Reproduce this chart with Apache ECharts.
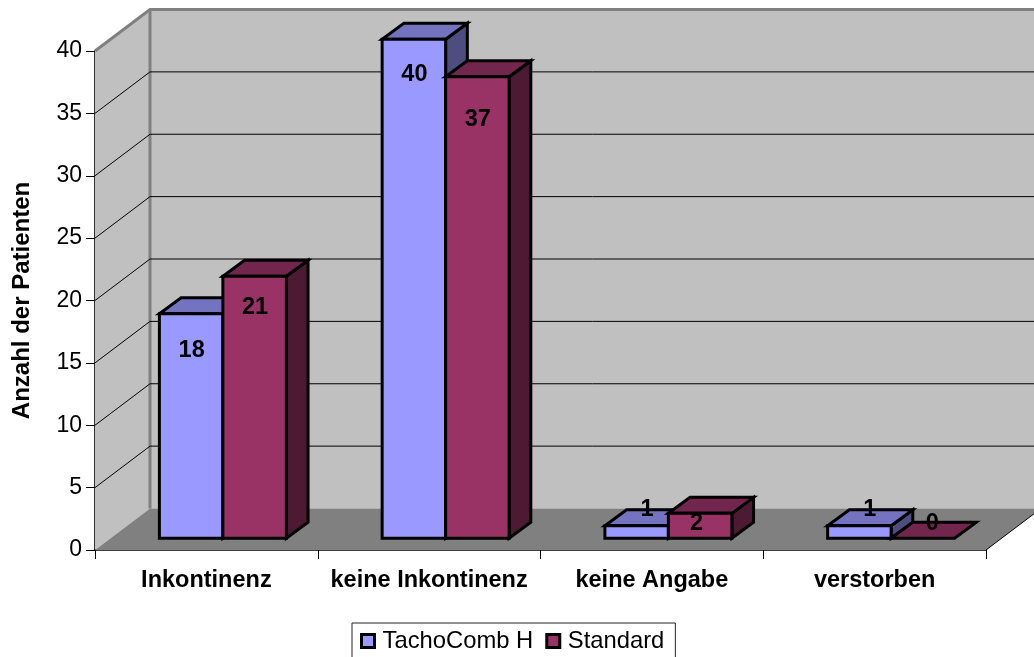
<!DOCTYPE html>
<html><head><meta charset="utf-8">
<style>html,body{margin:0;padding:0;background:#fff;overflow:hidden}#c{width:1034px;height:657px}</style>
<script src="https://cdn.jsdelivr.net/npm/echarts@6/dist/echarts.min.js"></script>
</head><body><div id="c"></div>
<script>
var categories = ['Inkontinenz', 'keine Inkontinenz', 'keine Angabe', 'verstorben'];
var tachoValues = [18, 40, 1, 1];
var standardValues = [21, 37, 2, 0];
var gridValues = [5, 10, 15, 20, 25, 30, 35];
var axisName = 'Anzahl der Patienten';

// Styling / projection constants (not data)
var FONT = '"Liberation Sans", Arial, sans-serif';
var FS = 23;
var DEPTH = [55, -41.5];      // full floor depth
var BAR_FRONT = [16.5, -11.7];// bar front face offset from axis plane
var BAR_DEPTH = [21.7, -16];  // bar depth
var BAR_RATIO = 0.285;
var tachoStyle = {front: '#9999FF', top: '#7373BF', side: '#4D4D80'};
var standardStyle = {front: '#993366', top: '#73264D', side: '#4D1A33'};
// Hand placement of the value labels, relative to the centre of each bar's top front edge
var tachoLabelNudge = [[0.5, 36.5], [0.5, 35.5], [10.5, -16.5], [10.5, -16.5]];
var standardLabelNudge = [[0.5, 31.5], [0.5, 42.5], [-3.5, 10.5], [9.5, -14.5]];

function shift(p, d) { return [p[0] + d[0], p[1] + d[1]]; }

function renderBackdrop(params, api) {
  var band = api.size([1, 0])[0];
  var a = api.coord([0, 0]), b = api.coord([categories.length - 1, 0]), t = api.coord([0, 40]);
  var x0 = a[0] - band / 2, x1 = b[0] + band / 2, y0 = a[1], y1 = t[1];
  var fl = [x0, y0], fr = [x1, y0], tl = [x0, y1];
  var bl = shift(fl, DEPTH), br = shift(fr, DEPTH), btl = shift(tl, DEPTH), btr = shift([x1, y1], DEPTH);
  var edge = {stroke: '#808080', lineWidth: 3, fill: null};
  return {type: 'group', children: [
    {type: 'polygon', shape: {points: [bl, btl, btr, br]}, style: {fill: '#C0C0C0'}},
    {type: 'polygon', shape: {points: [fl, tl, btl, bl]}, style: {fill: '#C0C0C0'}},
    {type: 'polygon', shape: {points: [fl, bl, br, fr]}, style: {fill: '#808080'}},
    {type: 'polyline', shape: {points: [tl, btl, btr]}, style: edge},
    {type: 'polyline', shape: {points: [bl, btl]}, style: edge},
    {type: 'line', shape: {x1: fr[0], y1: fr[1], x2: br[0], y2: br[1]}, style: {stroke: '#000', lineWidth: 1}}
  ]};
}

function renderGrid(params, api) {
  var band = api.size([1, 0])[0];
  var v = api.value(0);
  var l = api.coord([0, v]), r = api.coord([categories.length - 1, v]);
  var p0 = [l[0] - band / 2, l[1]], p1 = shift(p0, DEPTH), p2 = shift([r[0] + band / 2, r[1]], DEPTH);
  return {type: 'polyline', shape: {points: [p0, p1, p2]}, style: {stroke: '#000', lineWidth: 1, fill: null}};
}

function barRenderer(slot, st, nudge) {
  return function (params, api) {
    var i = api.value(0), v = api.value(1);
    var band = api.size([1, 0])[0], w = band * BAR_RATIO;
    var top = api.coord([i, v]), base = api.coord([i, 0]);
    var x = top[0] + (slot - 1) * w;
    var ftl = shift([x, top[1]], BAR_FRONT), ftr = shift([x + w, top[1]], BAR_FRONT);
    var fbl = shift([x, base[1]], BAR_FRONT), fbr = shift([x + w, base[1]], BAR_FRONT);
    var stroke = {stroke: '#000', lineWidth: 3, lineJoin: 'miter'};
    var face = function (pts, c) {
      return {type: 'polygon', shape: {points: pts}, style: Object.assign({fill: c}, stroke)};
    };
    var kids = [];
    if (v > 0) {
      kids.push(face([fbr, ftr, shift(ftr, BAR_DEPTH), shift(fbr, BAR_DEPTH)], st.side));
    }
    kids.push(face([ftl, ftr, shift(ftr, BAR_DEPTH), shift(ftl, BAR_DEPTH)], st.top));
    if (v > 0) {
      kids.push(face([fbl, ftl, ftr, fbr], st.front));
    }
    kids.push({type: 'text', z2: 10, style: {
      text: String(v), x: ftl[0] + w / 2 + nudge[i][0], y: ftl[1] + nudge[i][1],
      align: 'center', verticalAlign: 'middle', fill: '#000',
      fontFamily: FONT, fontWeight: 'bold', fontSize: 23.5
    }});
    return {type: 'group', children: kids};
  };
}

var chart = echarts.init(document.getElementById('c'), null, {renderer: 'canvas'});
chart.setOption({
  animation: false,
  backgroundColor: '#fff',
  textStyle: {fontFamily: FONT},
  grid: {left: 95, right: 48, top: 51, bottom: 107, outerBoundsMode: 'none'},
  legend: {
    data: ['TachoComb H', 'Standard'], left: 352, top: 623,
    orient: 'horizontal', icon: 'rect', selectedMode: false,
    itemWidth: 13, itemHeight: 13, itemGap: 12,
    padding: [6, 11, 20, 8], borderColor: '#222', borderWidth: 1,
    itemStyle: {borderColor: '#000', borderWidth: 3},
    textStyle: {fontFamily: FONT, fontSize: 23.8, color: '#000', padding: [0, 0, 0, 3]}
  },
  xAxis: {
    type: 'category', data: categories, boundaryGap: true,
    axisLine: {show: true, lineStyle: {color: '#000', width: 1.5}},
    axisTick: {show: true, length: 9, lineStyle: {color: '#000'}},
    axisLabel: {fontFamily: FONT, fontSize: 23.5, fontWeight: 'bold', color: '#000', margin: 19, interval: 0},
    splitLine: {show: false}
  },
  yAxis: {
    type: 'value', min: 0, max: 40, interval: 5,
    name: axisName, nameLocation: 'middle', nameGap: 61, nameRotate: 90,
    nameTextStyle: {fontFamily: FONT, fontSize: 24, fontWeight: 'bold', color: '#000'},
    axisLine: {show: true, lineStyle: {color: '#333', width: 2}},
    axisTick: {show: true, length: 9, lineStyle: {color: '#000'}},
    axisLabel: {fontFamily: FONT, fontSize: FS, color: '#000', margin: 13, padding: [7, 0, 0, 0]},
    splitLine: {show: false}
  },
  series: [
    {type: 'custom', name: 'backdrop', silent: true, z: 1, data: [[0]], renderItem: renderBackdrop,
      encode: {x: -1, y: -1}},
    {type: 'custom', name: 'gridlines', silent: true, z: 2, data: gridValues.map(function (v) { return [v]; }), renderItem: renderGrid,
      encode: {x: -1, y: -1}},
    {type: 'custom', name: 'TachoComb H', z: 3, itemStyle: {color: tachoStyle.front},
      data: tachoValues.map(function (v, i) { return [i, v]; }),
      encode: {x: 0, y: 1}, renderItem: barRenderer(0, tachoStyle, tachoLabelNudge)},
    {type: 'custom', name: 'Standard', z: 4, itemStyle: {color: standardStyle.front},
      data: standardValues.map(function (v, i) { return [i, v]; }),
      encode: {x: 0, y: 1}, renderItem: barRenderer(1, standardStyle, standardLabelNudge)}
  ]
});
</script></body></html>
